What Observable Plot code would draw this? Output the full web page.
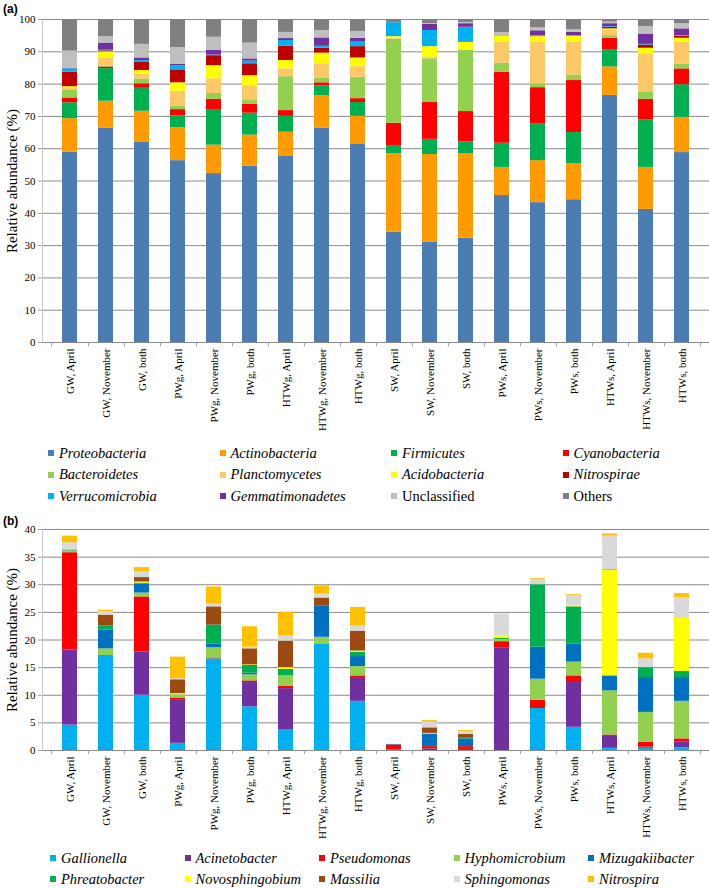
<!DOCTYPE html>
<html><head><meta charset="utf-8">
<script src="https://cdn.jsdelivr.net/npm/d3@7"></script>
<script src="https://cdn.jsdelivr.net/npm/@observablehq/plot@0.6"></script>
<style>
body{margin:0;background:#fff;}
#root{position:relative;width:709px;height:888px;overflow:hidden;font-family:"Liberation Serif","Times New Roman",serif;color:#000;}
.panel{position:absolute;left:0;}
.tag{position:absolute;left:3px;font:bold 12px "Liberation Sans",Arial,sans-serif;}
.leg{position:absolute;height:16px;display:flex;align-items:center;font-size:14.5px;white-space:nowrap;}
.leg .sw{display:inline-block;width:6px;height:6px;margin-right:5px;}
</style></head><body><div id="root"></div>
<script>
const samples = ["GW, April","GW, November","GW, both","PWg, April","PWg, November","PWg, both",
  "HTWg, April","HTWg, November","HTWg, both","SW, April","SW, November","SW, both",
  "PWs, April","PWs, November","PWs, both","HTWs, April","HTWs, November","HTWs, both"];

// Panel (a): phyla, relative abundance (%)
const phyla = ["Proteobacteria","Actinobacteria","Firmicutes","Cyanobacteria","Bacteroidetes","Planctomycetes",
  "Acidobacteria","Nitrospirae","Verrucomicrobia","Gemmatimonadetes","Unclassified","Others"];
const phylaColors = ["#4b7db3","#ff9a00","#00b050","#ff0000","#92d050","#fdc868",
  "#ffff00","#c00000","#00b0f0","#7030a0","#bfbfbf","#808080"];
const proteobacteria   = [58.9,66.4,62.1,56.3,52.3,54.6,57.6,66.4,61.3,34.1,31.0,32.3,45.5,43.3,44.2,76.5,41.2,58.8];
const actinobacteria   = [10.4,8.3,9.5,10.2,8.8,9.6,7.5,10.0,8.7,24.4,27.2,26.1,8.7,13.0,11.2,8.8,13.0,10.9];
const firmicutes       = [4.9,10.1,7.1,3.7,10.8,6.8,4.9,3.1,4.3,2.5,4.7,3.7,7.5,11.3,9.6,5.2,14.8,10.1];
const cyanobacteria    = [1.5,0.5,1.4,1.9,3.4,2.7,1.8,0.9,1.2,6.9,11.4,9.4,22.0,11.3,16.1,3.7,6.3,4.9];
const bacteroidetes    = [2.5,0.3,1.5,1.0,1.8,1.2,10.5,1.4,6.6,26.0,13.5,18.9,2.8,1.2,1.6,0.8,2.1,1.5];
const planctomycetes   = [0.6,2.4,1.4,4.7,4.5,4.6,2.4,4.5,3.3,0.3,0.5,0.2,6.5,12.9,10.3,1.6,12.0,6.8];
const acidobacteria    = [0.4,2.0,1.2,2.6,4.1,3.1,2.6,3.3,2.7,0.5,3.3,2.3,1.8,1.7,1.8,0.5,1.7,1.2];
const nitrospirae      = [4.5,0.3,2.5,4.0,3.1,3.7,4.4,1.5,3.5,0,0,0,0.1,0.1,0.1,0.5,1.0,0.6];
const verrucomicrobia  = [1.0,0.2,0.6,1.3,0.2,0.8,1.8,0.6,1.4,4.3,5.0,4.7,0,0.2,0.1,0.2,0.2,0.2];
const gemmatimonadetes = [0.2,2.2,0.8,0.4,1.4,0.7,0.6,2.6,1.2,0,1.9,1.1,0,1.5,1.0,0.9,3.2,2.1];
const unclassifiedA    = [5.3,2.0,4.2,5.2,4.1,4.9,1.9,2.3,2.1,0,0.2,0.4,1.0,0.9,0.8,0.5,2.3,1.6];
const others           = [9.8,5.3,7.7,8.7,5.5,7.3,4.0,3.4,3.7,1.0,1.3,0.9,4.1,2.6,3.2,0.8,2.2,1.3];
const phylaSeries = [proteobacteria,actinobacteria,firmicutes,cyanobacteria,bacteroidetes,planctomycetes,
  acidobacteria,nitrospirae,verrucomicrobia,gemmatimonadetes,unclassifiedA,others];
const phylaItalic = phyla.map(n => n !== "Unclassified" && n !== "Others");
const ticksA = [0,10,20,30,40,50,60,70,80,90,100];

// Panel (b): genera, relative abundance (%)
const genera = ["Gallionella","Acinetobacter","Pseudomonas","Hyphomicrobium","Mizugakiibacter",
  "Phreatobacter","Novosphingobium","Massilia","Sphingomonas","Nitrospira"];
const generaColors = ["#00b0f0","#7030a0","#ff0000","#92d050","#0070c0",
  "#00b050","#ffff00","#9c4a12","#d9d9d9","#ffc000"];
const gallionella     = [4.6,17.2,10.0,1.3,16.4,7.9,3.8,19.3,8.9,0,0,0,0,7.6,4.2,0.4,0.4,0.5];
const acinetobacter   = [13.6,0,7.8,7.9,0.2,4.4,7.4,0,4.3,0.1,0.3,0.2,18.5,0,8.1,2.3,0.2,1.0];
const pseudomonas     = [17.6,0,10.0,0.3,0,0.3,0.4,0,0.3,0.9,0.4,0.5,1.2,1.5,1.2,0.1,0.9,0.6];
const hyphomicrobium  = [0.3,1.2,0.7,0.6,2.0,1.1,1.9,1.2,1.7,0,0,0,0.4,3.8,2.5,8.0,5.4,6.8];
const mizugakiibacter = [0,3.4,1.6,0,0.7,0.3,0,5.7,1.8,0.1,2.2,1.4,0,5.8,3.3,2.7,6.3,4.3];
const phreatobacter   = [0.2,0.7,0.2,0,3.4,1.4,1.2,0,0.8,0,0.1,0.1,0.2,11.3,6.7,0,1.8,1.1];
const novosphingobium = [0.1,0,0.2,0.2,0,0.1,0.3,0,0.2,0,0.1,0,0.4,0,0.2,19.1,0,9.6];
const massilia        = [0,2.0,0.8,2.5,3.3,2.9,4.8,1.4,3.6,0,1.0,0.7,0,0,0,0.1,0,0];
const sphingomonas    = [1.2,0.6,1.0,0.2,0.5,0.3,0.9,0.7,1.0,0,1.0,0.5,4.0,0.9,1.8,6.1,1.6,3.8];
const nitrospira      = [1.2,0.3,0.8,3.9,3.1,3.7,4.3,1.5,3.3,0,0.3,0.2,0,0.2,0.2,0.4,1.0,0.7];
const generaSeries = [gallionella,acinetobacter,pseudomonas,hyphomicrobium,mizugakiibacter,
  phreatobacter,novosphingobium,massilia,sphingomonas,nitrospira];
const generaItalic = genera.map(() => true);
const ticksB = [0,5,10,15,20,25,30,35,40];

const axisTitle = "Relative abundance (%)";
const root = document.getElementById("root");

function makePanel({names, colors, series, ticks, top, height, marginTop, marginBottom, tickLen}) {
  const data = names.flatMap((n, k) => samples.map((s, i) => ({sample: s, taxon: n, value: series[k][i]})));
  const pIn = 0.58, pOut = 0.338;
  const step = (709 - 42) / (samples.length - pIn + 2 * pOut);
  const yMax = ticks[ticks.length - 1];
  const chart = Plot.plot({
    width: 709, height, marginTop, marginBottom, marginLeft: 42, marginRight: 0,
    style: {fontFamily: '"Liberation Serif","Times New Roman",serif', fontSize: "11px", background: "transparent", color: "#000"},
    x: {domain: samples, paddingInner: pIn, paddingOuter: pOut, label: null},
    y: {domain: [0, yMax], label: null},
    color: {domain: names, range: colors},
    marks: [
      Plot.gridY(ticks, {stroke: "#8a8a8a", strokeOpacity: 1}),
      Plot.frame({anchor: "left", stroke: "#c8c8c8"}),
      Plot.ruleX([samples[0]], {x: d => d, y1: 0, y2: -tickLen, dx: -step / 2, stroke: "#9a9a9a"}),
      Plot.ruleX(samples, {x: d => d, y1: 0, y2: -tickLen, dx: step / 2, stroke: "#9a9a9a"}),
      Plot.barY(data, {x: "sample", y: "value", fill: "taxon"}),
      Plot.axisY(ticks, {tickSize: 4, tickPadding: 3, label: null, stroke: "#9a9a9a", fill: "#000"}),
      Plot.axisX({tickRotate: -90, tickSize: 0, tickPadding: 6, label: null, fill: "#000"}),
      Plot.text([axisTitle], {frameAnchor: "left", textAnchor: "middle", lineAnchor: "middle",
        rotate: -90, dx: -30, fontSize: 15, fill: "#000"})
    ]
  });
  chart.classList.add("panel");
  chart.style.top = top + "px";
  root.appendChild(chart);
}

function makeLegend(names, colors, italic, x0, colStep, y0, rowStep, ncols) {
  names.forEach((n, i) => {
    const col = i % ncols, row = Math.floor(i / ncols);
    const d = document.createElement("div");
    d.className = "leg";
    d.style.left = (x0 + col * colStep) + "px";
    d.style.top = (y0 + row * rowStep - 8) + "px";
    const sw = document.createElement("span");
    sw.className = "sw";
    sw.style.background = colors[i];
    const t = document.createElement("span");
    t.textContent = n;
    if (italic[i]) t.style.fontStyle = "italic";
    d.appendChild(sw); d.appendChild(t);
    root.appendChild(d);
  });
}

function tag(text, top) {
  const d = document.createElement("div");
  d.className = "tag"; d.textContent = text; d.style.top = top + "px";
  root.appendChild(d);
}

makePanel({names: phyla, colors: phylaColors, series: phylaSeries, ticks: ticksA,
  top: 0, height: 442, marginTop: 19, marginBottom: 100, tickLen: 1.3});
makePanel({names: genera, colors: generaColors, series: generaSeries, ticks: ticksB,
  top: 510, height: 340, marginTop: 19, marginBottom: 100, tickLen: 0.7});
makeLegend(phyla, phylaColors, phylaItalic, 48, 171.5, 453, 21.5, 4);
makeLegend(genera, generaColors, generaItalic, 50, 134.5, 858, 21, 5);
tag("(a)", 2);
tag("(b)", 514);
</script></body></html>
